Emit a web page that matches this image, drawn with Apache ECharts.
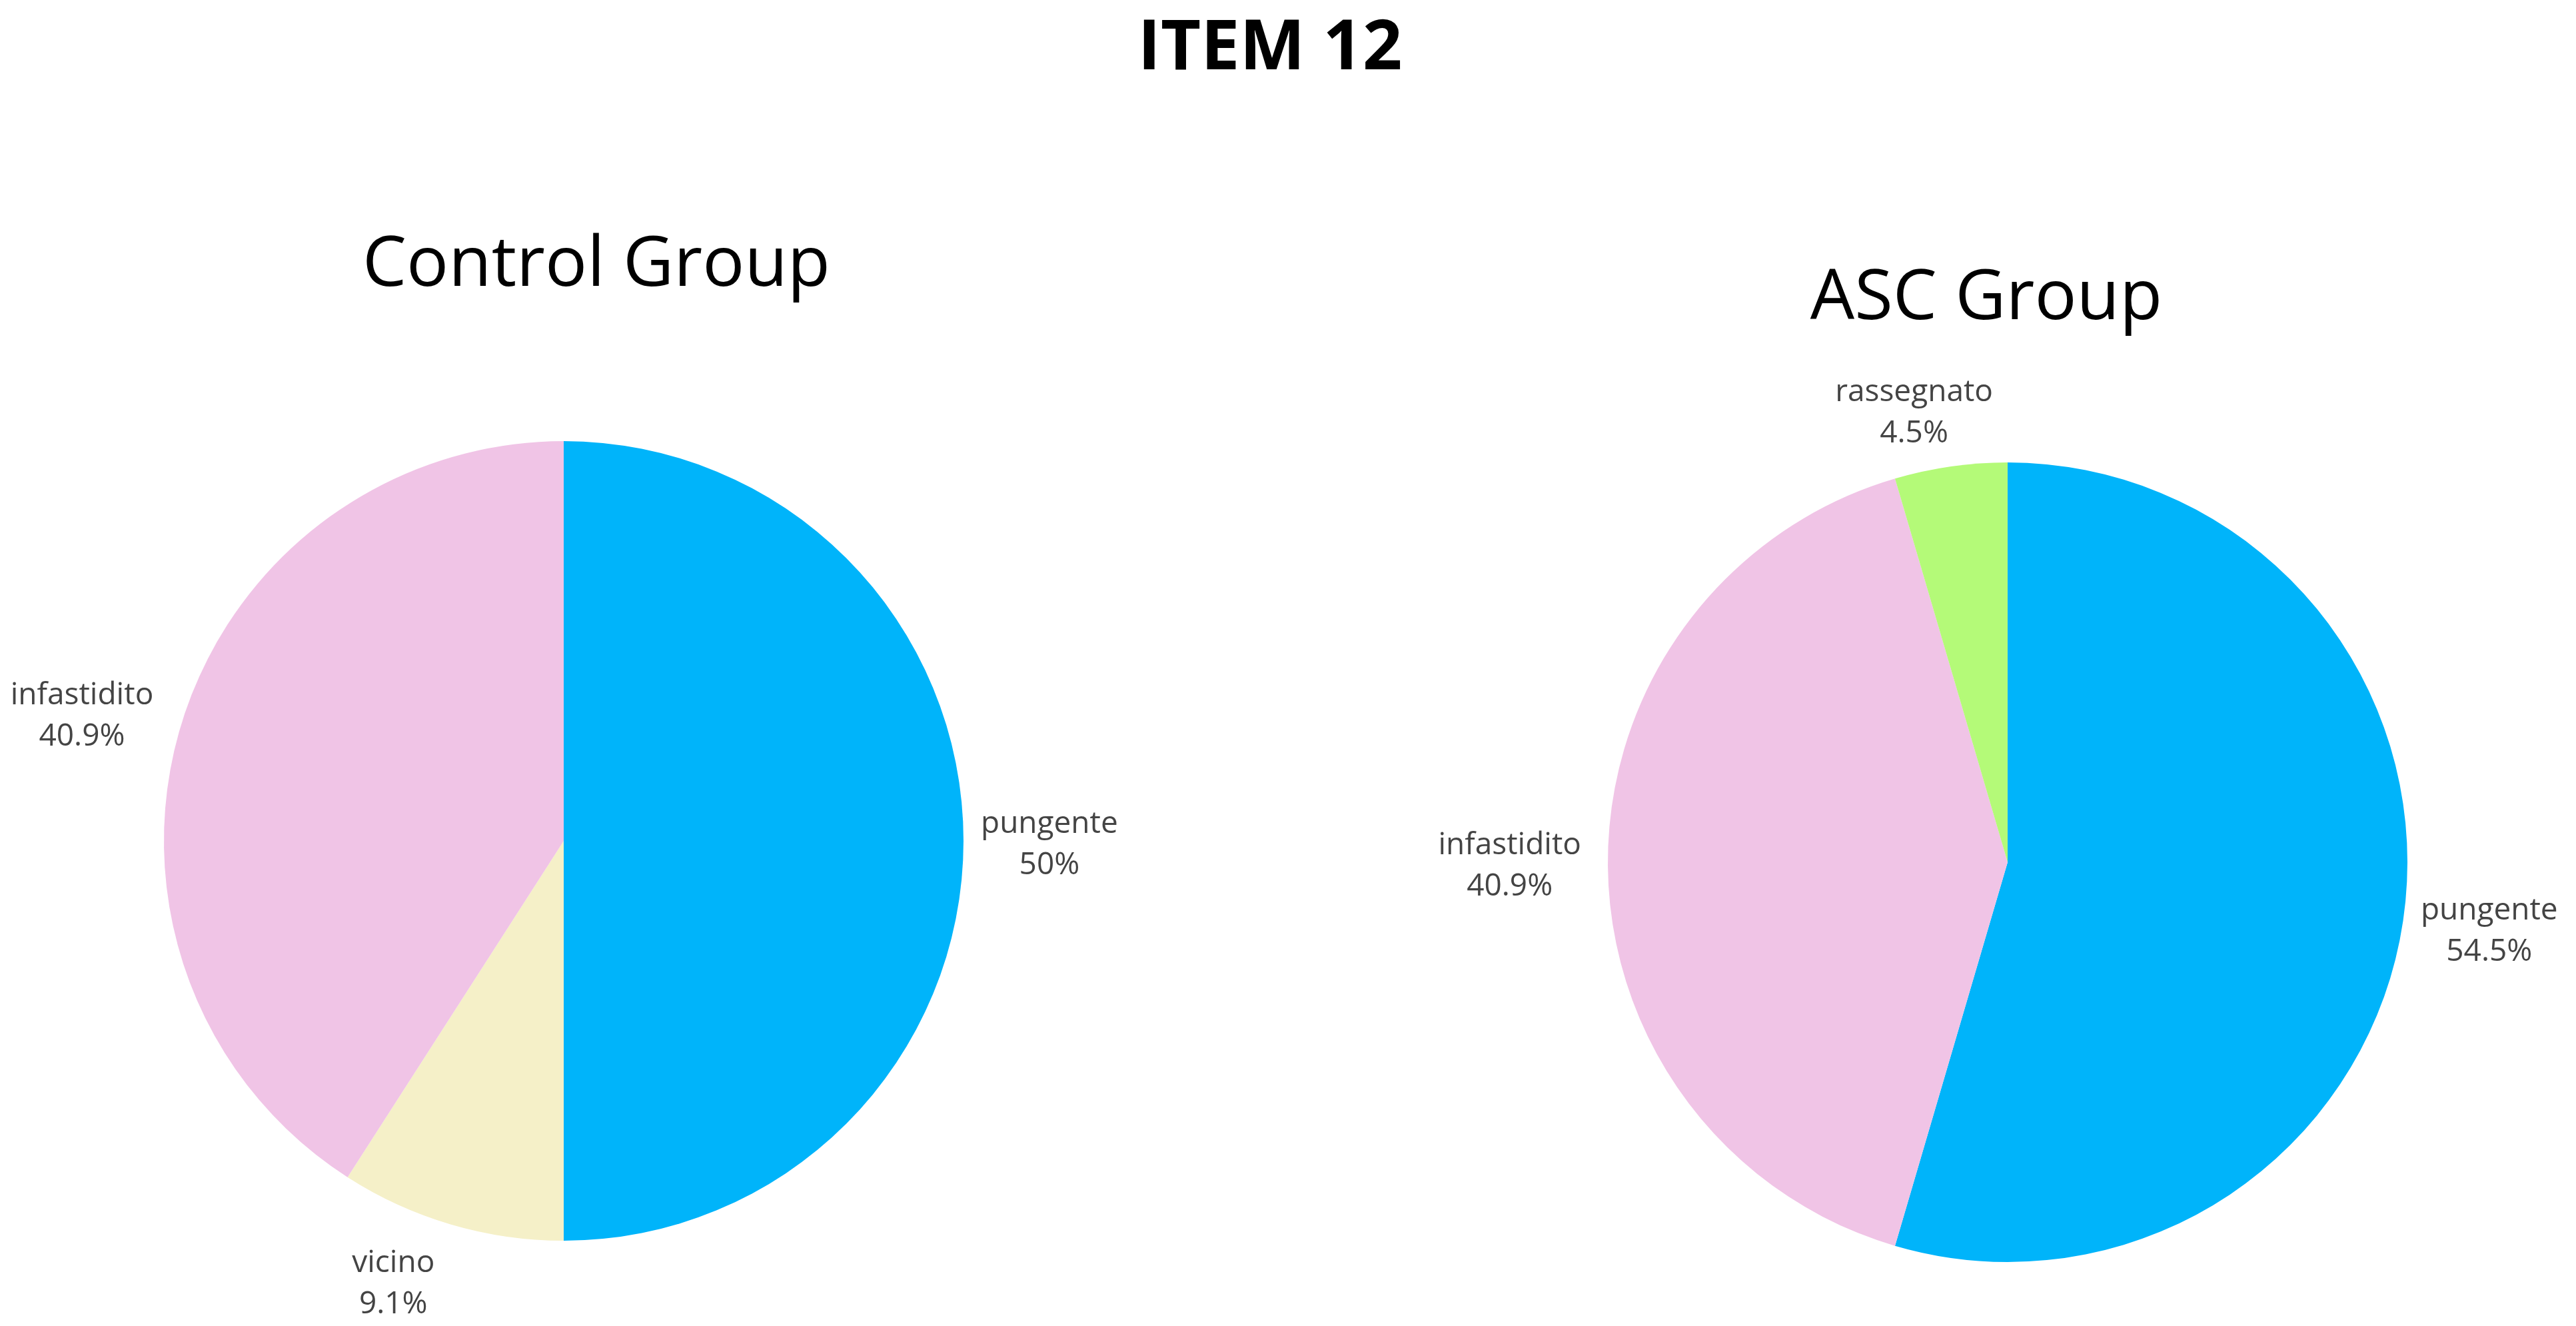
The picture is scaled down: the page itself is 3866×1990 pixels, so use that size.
<!DOCTYPE html>
<html>
<head>
<meta charset="utf-8">
<script src="https://cdn.jsdelivr.net/npm/echarts@6/dist/echarts.min.js"></script>
<style>
html,body{margin:0;padding:0;background:#fff;}
#chart{width:3866px;height:1990px;}
</style>
</head>
<body>
<div id="chart"></div>
<script>
// ---- data ----
const mainTitle = 'ITEM 12';
const groupTitles = ['Control Group', 'ASC Group'];
const controlCategories = ['pungente', 'vicino', 'infastidito'];
const controlValues = [11, 2, 9];
const ascCategories = ['pungente', 'infastidito', 'rassegnato'];
const ascValues = [12, 9, 1];

// ---- styles ----
const colorMap = {
  pungente: '#00B4FA',
  vicino: '#F5F0C8',
  infastidito: '#F0C4E6',
  rassegnato: '#B4FA78'
};
const FONT = '"Open Sans", "Noto Sans", sans-serif';
const LABEL_SIZE = 46;
const LABEL_LH = 62;
const pies = [
  { cats: controlCategories, vals: controlValues, center: [846, 1262], r: 600 },
  { cats: ascCategories, vals: ascValues, center: [3013, 1294], r: 600 }
];

function total(vals) { return vals.reduce((a, b) => a + b, 0); }
// mid-angle direction of each slice (start at top, clockwise)
function midDirs(vals) {
  const tot = total(vals);
  let acc = 0;
  return vals.map(v => {
    const a = (acc + v / 2) / tot * 2 * Math.PI;
    acc += v;
    return [Math.sin(a), -Math.cos(a)];
  });
}
const dirs = pies.map(p => midDirs(p.vals));

const measureCtx = document.createElement('canvas').getContext('2d');
function textWidth(s) {
  measureCtx.font = LABEL_SIZE + 'px "Open Sans"';
  return measureCtx.measureText(s).width;
}
function pctText(vals, i) {
  return (Math.round(vals[i] / total(vals) * 1000) / 10) + '%';
}

function makeLabelLayout(si) {
  return function (params) {
    const di = params.dataIndex;
    const p = pies[si];
    const d = dirs[si][di];
    const w = Math.max(textWidth(p.cats[di]), textWidth(pctText(p.vals, di)));
    const h = 2 * LABEL_LH;
    const sx = d[0] >= 0 ? 1 : -1;
    const gap = sx > 0 ? 26 : 40;
    const k = Math.max(0, Math.min(1, Math.abs(d[0]) * 3.6 - 0.165));
    const cxL = p.center[0] + d[0] * p.r + sx * (w / 2 + gap) * k;
    const cyL = p.center[1] + d[1] * (p.r + 25) + d[1] * h / 2 + 6;
    return { x: cxL, y: cyL, align: 'center', verticalAlign: 'middle' };
  };
}

const chart = echarts.init(document.getElementById('chart'), null, { renderer: 'canvas' });

const option = {
  backgroundColor: '#ffffff',
  animation: false,
  title: [
    { text: mainTitle, left: 1901, top: 69 - 52, textAlign: 'center',
      textStyle: { fontFamily: FONT, fontWeight: 'bold', fontSize: 104, lineHeight: 104, color: '#000' } },
    { text: groupTitles[0], left: 890, top: 394 - 52, textAlign: 'center',
      textStyle: { fontFamily: FONT, fontWeight: 'normal', fontSize: 105, lineHeight: 105, color: '#000' } },
    { text: groupTitles[1], left: 2976, top: 444 - 52, textAlign: 'center',
      textStyle: { fontFamily: FONT, fontWeight: 'normal', fontSize: 105, lineHeight: 105, color: '#000' } }
  ],
  series: pies.map((p, si) => ({
    type: 'pie',
    center: p.center,
    radius: p.r,
    startAngle: 90,
    clockwise: true,
    avoidLabelOverlap: false,
    data: p.cats.map((c, i) => ({ name: c, value: p.vals[i], itemStyle: { color: colorMap[c] } })),
    itemStyle: { borderWidth: 0 },
    label: {
      show: true,
      position: 'outside',
      formatter: function (prm) {
        return '{n|' + prm.name + '}\n{n|' + pctText(p.vals, prm.dataIndex) + '}';
      },
      rich: {
        n: { align: 'center', fontFamily: FONT, fontSize: LABEL_SIZE, lineHeight: LABEL_LH, color: '#444' }
      },
      fontFamily: FONT,
      fontSize: LABEL_SIZE,
      lineHeight: LABEL_LH,
      color: '#444'
    },
    labelLine: { show: false },
    labelLayout: makeLabelLayout(si),
    emphasis: { disabled: true }
  }))
};
chart.setOption(option);
</script>
</body>
</html>
